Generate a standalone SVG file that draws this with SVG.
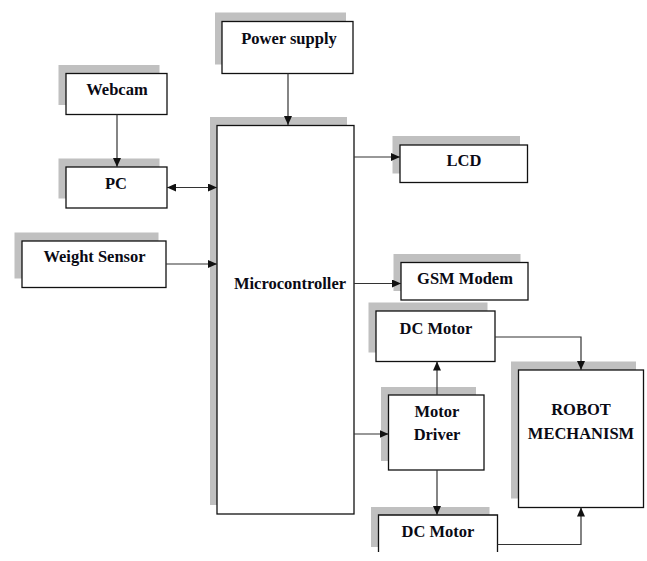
<svg xmlns="http://www.w3.org/2000/svg" width="647" height="561" viewBox="0 0 647 561">
<defs>
<marker id="ah" markerUnits="userSpaceOnUse" markerWidth="9" markerHeight="8" refX="9" refY="4" orient="auto-start-reverse">
<path d="M0,0 L9,4 L0,8 Z" fill="#111"/>
</marker>
</defs>
<style>
.sh{fill:#c0c0c0}
.bx{fill:#fff;stroke:#111;stroke-width:1.3}
.t{font-family:"Liberation Serif","Times New Roman",serif;font-weight:bold;font-size:16.5px;fill:#0a0a14;text-anchor:middle}
.c{fill:none;stroke:#333;stroke-width:1.2}
</style>
<rect width="647" height="561" fill="#fff"/>
<g id="power-supply">
<rect class="sh" x="215" y="12.5" width="131" height="52"/>
<rect class="bx" x="222" y="21.5" width="131" height="52"/>
<text class="t" x="289" y="43.5">Power supply</text>
</g>
<g id="webcam">
<rect class="sh" x="58.5" y="65" width="101" height="40"/>
<rect class="bx" x="66" y="73.5" width="101" height="41"/>
<text class="t" x="117" y="94.5">Webcam</text>
</g>
<g id="pc">
<rect class="sh" x="58.5" y="158.5" width="101" height="40"/>
<rect class="bx" x="66" y="167" width="101" height="41"/>
<text class="t" x="116" y="188.5">PC</text>
</g>
<g id="weight-sensor">
<rect class="sh" x="14.5" y="232.5" width="144" height="46"/>
<rect class="bx" x="22" y="241" width="144" height="46.5"/>
<text class="t" x="94.5" y="262">Weight Sensor</text>
</g>
<g id="microcontroller">
<rect class="sh" x="210" y="117" width="137" height="388"/>
<rect class="bx" x="217" y="125.5" width="137" height="388.5"/>
<text class="t" x="290" y="288.5">Microcontroller</text>
</g>
<g id="lcd">
<rect class="sh" x="392.5" y="136" width="127.5" height="37.5"/>
<rect class="bx" x="400" y="145" width="127.5" height="37.5"/>
<text class="t" x="464" y="166">LCD</text>
</g>
<g id="gsm-modem">
<rect class="sh" x="393.5" y="254" width="127" height="37"/>
<rect class="bx" x="401" y="262.5" width="127" height="37.5"/>
<text class="t" x="465" y="283.5">GSM Modem</text>
</g>
<g id="dc-motor-top">
<rect class="sh" x="368.5" y="302.5" width="119" height="50"/>
<rect class="bx" x="376" y="311" width="119" height="50.5"/>
<text class="t" x="436" y="333.5">DC Motor</text>
</g>
<g id="motor-driver">
<rect class="sh" x="381" y="387" width="95" height="74"/>
<rect class="bx" x="388.5" y="395" width="95.5" height="75"/>
<text class="t" x="437" y="417">Motor</text>
<text class="t" x="437" y="440">Driver</text>
</g>
<g id="robot-mechanism">
<rect class="sh" x="511" y="361.5" width="125" height="137"/>
<rect class="bx" x="518.5" y="370" width="125" height="137.5"/>
<text class="t" x="581" y="415">ROBOT</text>
<text class="t" x="581" y="438.5">MECHANISM</text>
</g>
<g id="dc-motor-bottom">
<rect class="sh" x="371" y="507" width="118.5" height="40"/>
<rect x="378.5" y="515" width="119" height="37" fill="#fff"/>
<path d="M378.5,552 V515 H497.5 V552" fill="none" stroke="#111" stroke-width="1.3"/>
<text class="t" x="438" y="537">DC Motor</text>
</g>
<g id="connectors">
<path class="c" d="M288,73.5 V125" marker-end="url(#ah)"/>
<path class="c" d="M117,114.5 V167" marker-end="url(#ah)"/>
<path class="c" d="M167,187.5 H217" marker-start="url(#ah)" marker-end="url(#ah)"/>
<path class="c" d="M166,264 H217" marker-end="url(#ah)"/>
<path class="c" d="M354,157 H400" marker-end="url(#ah)"/>
<path class="c" d="M354,283.5 H401" marker-end="url(#ah)"/>
<path class="c" d="M354,434 H388.5" marker-end="url(#ah)"/>
<path class="c" d="M437,395 V361.5" marker-end="url(#ah)"/>
<path class="c" d="M437,470 V515" marker-end="url(#ah)"/>
<path class="c" d="M495,337 H581 V370" marker-end="url(#ah)"/>
<path class="c" d="M497.5,544.5 H581 V507.5" marker-end="url(#ah)"/>
</g>
</svg>
